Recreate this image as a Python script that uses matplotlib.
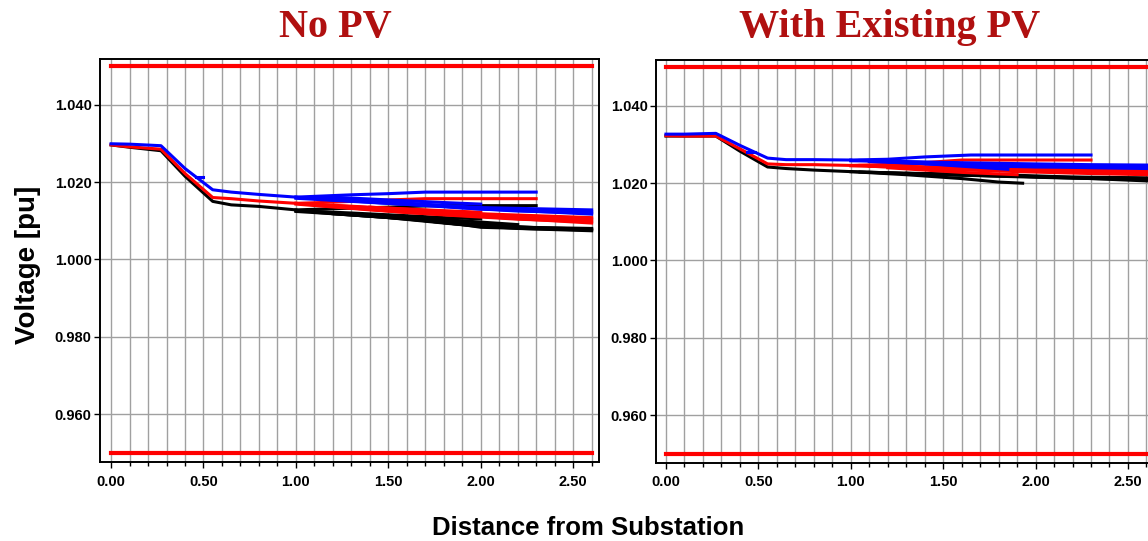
import matplotlib.pyplot as plt
from matplotlib.ticker import MultipleLocator, FormatStrFormatter

# ---- data (distance, voltage in pu) ----
trunk_x = [0.00, 0.10, 0.27, 0.40, 0.55, 0.65, 0.80, 1.00]

# No PV
nopv_blue_trunk = [1.0299, 1.0298, 1.0294, 1.0235, 1.0180, 1.0174, 1.0168, 1.0161]
nopv_red_trunk = [1.0296, 1.0291, 1.0285, 1.0222, 1.0160, 1.0157, 1.0151, 1.0145]
nopv_black_trunk = [1.0296, 1.0290, 1.0281, 1.0215, 1.0150, 1.0141, 1.0137, 1.0128]

nopv_blue_x = [[1.00, 1.10, 1.30, 1.50, 1.70, 2.30],
               [1.00, 1.20, 1.50, 1.80, 2.00, 2.30, 2.60],
               [1.00, 1.30, 1.60, 1.90, 2.20, 2.60],
               [1.10, 1.50, 2.00, 2.60],
               [1.05, 1.40, 1.75, 2.10, 2.60],
               [1.15, 1.45, 1.80, 2.00],
               [0.46, 0.50]]
nopv_blue_v = [[1.0161, 1.0163, 1.0167, 1.0170, 1.0174, 1.0174],
               [1.0161, 1.0154, 1.0145, 1.0137, 1.0130, 1.0126, 1.0124],
               [1.0158, 1.0150, 1.0142, 1.0133, 1.0125, 1.0120],
               [1.0160, 1.0148, 1.0134, 1.0128],
               [1.0159, 1.0151, 1.0140, 1.0129, 1.0117],
               [1.0162, 1.0155, 1.0147, 1.0143],
               [1.0213, 1.0213]]

nopv_red_x = [[1.00, 1.20, 1.40, 1.70, 2.30],
              [1.00, 1.30, 1.60, 2.00, 2.30, 2.60],
              [1.00, 1.40, 1.80, 2.20, 2.60],
              [1.20, 1.60, 2.00, 2.60],
              [1.30, 1.70, 2.10, 2.60],
              [1.10, 1.50, 1.85, 2.25, 2.60],
              [1.40, 1.75, 2.00]]
nopv_red_v = [[1.0145, 1.0148, 1.0152, 1.0157, 1.0157],
              [1.0145, 1.0133, 1.0121, 1.0111, 1.0106, 1.0102],
              [1.0143, 1.0128, 1.0115, 1.0104, 1.0097],
              [1.0140, 1.0130, 1.0118, 1.0108],
              [1.0136, 1.0122, 1.0108, 1.0094],
              [1.0142, 1.0131, 1.0121, 1.0110, 1.0105],
              [1.0135, 1.0127, 1.0122]]

nopv_black_x = [[1.00, 1.20, 1.50, 1.75, 2.30],
                [1.00, 1.30, 1.60, 1.80, 2.00],
                [1.00, 1.20, 1.45, 1.70, 1.90, 2.00, 2.30, 2.60],
                [1.10, 1.50, 1.80, 2.00, 2.60],
                [1.20, 1.60, 1.90, 2.20, 2.60],
                [1.05, 1.35, 1.65, 1.95, 2.30, 2.60],
                [1.50, 1.80, 2.20]]
nopv_black_v = [[1.0128, 1.0131, 1.0135, 1.0139, 1.0139],
                [1.0126, 1.0120, 1.0113, 1.0108, 1.0105],
                [1.0124, 1.0118, 1.0110, 1.0100, 1.0090, 1.0083, 1.0079, 1.0076],
                [1.0122, 1.0108, 1.0094, 1.0085, 1.0080],
                [1.0118, 1.0105, 1.0090, 1.0080, 1.0074],
                [1.0125, 1.0116, 1.0106, 1.0092, 1.0082, 1.0078],
                [1.0113, 1.0103, 1.0090]]

# With existing PV
pv_blue_trunk = [1.0327, 1.0327, 1.0329, 1.0298, 1.0265, 1.0261, 1.0261, 1.0260]
pv_red_trunk = [1.0323, 1.0322, 1.0322, 1.0289, 1.0250, 1.0248, 1.0248, 1.0246]
pv_black_trunk = [1.0322, 1.0322, 1.0322, 1.0283, 1.0242, 1.0238, 1.0234, 1.0230]

pv_blue_x = [[1.00, 1.20, 1.40, 1.65, 2.30],
             [1.00, 1.30, 1.60, 2.00, 2.30, 2.60],
             [1.10, 1.50, 1.90, 2.30, 2.60],
             [1.20, 1.60, 2.00, 2.60],
             [1.05, 1.45, 1.85, 2.20, 2.60],
             [1.30, 1.60, 1.85],
             [0.44, 0.48]]
pv_blue_v = [[1.0260, 1.0262, 1.0268, 1.0273, 1.0273],
             [1.0258, 1.0256, 1.0253, 1.0250, 1.0248, 1.0247],
             [1.0256, 1.0249, 1.0244, 1.0240, 1.0238],
             [1.0255, 1.0246, 1.0242, 1.0243],
             [1.0259, 1.0253, 1.0248, 1.0244, 1.0241],
             [1.0254, 1.0244, 1.0236],
             [1.0280, 1.0280]]

pv_red_x = [[1.00, 1.30, 1.60, 2.30],
            [1.00, 1.40, 1.80, 2.20, 2.60],
            [1.10, 1.50, 1.90, 2.30, 2.60],
            [1.20, 1.60, 1.90],
            [1.05, 1.45, 1.85, 2.25, 2.60],
            [1.30, 1.70, 2.10, 2.60]]
pv_red_v = [[1.0246, 1.0250, 1.0260, 1.0260],
            [1.0245, 1.0240, 1.0234, 1.0230, 1.0228],
            [1.0244, 1.0236, 1.0230, 1.0225, 1.0222],
            [1.0240, 1.0228, 1.0222],
            [1.0246, 1.0242, 1.0238, 1.0235, 1.0233],
            [1.0243, 1.0238, 1.0232, 1.0225]]

pv_black_x = [[1.00, 1.30, 1.60, 1.80, 1.93],
              [1.00, 1.40, 1.80, 2.20, 2.60],
              [1.10, 1.50, 1.90, 2.30, 2.60],
              [1.30, 1.80, 2.20, 2.60],
              [1.05, 1.35, 1.70, 2.10, 2.60]]
pv_black_v = [[1.0230, 1.0222, 1.0212, 1.0203, 1.0200],
              [1.0230, 1.0224, 1.0218, 1.0213, 1.0210],
              [1.0228, 1.0222, 1.0218, 1.0212, 1.0206],
              [1.0226, 1.0222, 1.0216, 1.0214],
              [1.0229, 1.0225, 1.0220, 1.0216, 1.0212]]

limits = [0.95, 1.05]
limit_x = [0.0, 2.6]
titles = ["No PV", "With Existing PV"]

fig = plt.figure(figsize=(11.48, 5.41), dpi=100)
ax1 = fig.add_axes([0.0871, 0.146, 0.4347, 0.7455])
ax2 = fig.add_axes([0.5714, 0.1442, 0.4337, 0.745])


def draw_panel(ax, xlim, trunks, branches):
    # limit lines
    for lim in limits:
        ax.plot(limit_x, [lim, lim], color="#ff0000", lw=3, zorder=3)
    # black, then red, then blue on top
    for color, trunk, (bx, bv) in zip(["black", "#ff0000", "#0000ff"], trunks, branches):
        ax.plot(trunk_x, trunk, color=color, lw=2.2, zorder=4)
        for x, v in zip(bx, bv):
            ax.plot(x, v, color=color, lw=2.2, zorder=4)

    ax.set_xlim(*xlim)
    ax.set_ylim(0.9476, 1.0519)
    ax.xaxis.set_major_locator(MultipleLocator(0.5))
    ax.xaxis.set_minor_locator(MultipleLocator(0.1))
    ax.yaxis.set_major_locator(MultipleLocator(0.02))
    ax.xaxis.set_major_formatter(FormatStrFormatter("%.2f"))
    ax.yaxis.set_major_formatter(FormatStrFormatter("%.3f"))
    ax.grid(True, which="both", axis="x", color="#a0a0a0", lw=1.0, zorder=1)
    ax.grid(True, which="major", axis="y", color="#a0a0a0", lw=1.0, zorder=1)
    ax.tick_params(axis="both", which="major", length=4, width=1, pad=2)
    ax.tick_params(axis="x", which="major", pad=5)
    ax.tick_params(axis="x", which="minor", length=3, width=1)
    for lab in ax.get_xticklabels() + ax.get_yticklabels():
        lab.set_fontfamily(["Liberation Sans", "DejaVu Sans"])
        lab.set_fontweight("bold")
        lab.set_fontsize(10.5)
    for sp in ax.spines.values():
        sp.set_linewidth(1.4)
        sp.set_color("black")


draw_panel(ax1, (-0.06, 2.64),
           [nopv_black_trunk, nopv_red_trunk, nopv_blue_trunk],
           [(nopv_black_x, nopv_black_v), (nopv_red_x, nopv_red_v), (nopv_blue_x, nopv_blue_v)])
draw_panel(ax2, (-0.054, 2.64),
           [pv_black_trunk, pv_red_trunk, pv_blue_trunk],
           [(pv_black_x, pv_black_v), (pv_red_x, pv_red_v), (pv_blue_x, pv_blue_v)])

# titles and shared labels
title_font = dict(family=["Liberation Serif", "DejaVu Serif"], fontweight="bold",
                  fontsize=29, color="#b01010", ha="center", va="center")
fig.text(335 / 1148, 1 - 28 / 541, titles[0], **title_font)
fig.text(890 / 1148, 1 - 28 / 541, titles[1], **title_font)

label_font = dict(family=["Liberation Sans", "DejaVu Sans"], fontweight="bold",
                  color="black", ha="center", va="center")
fig.text(588 / 1148, 1 - 528 / 541, "Distance from Substation", fontsize=18.5, **label_font)
fig.text(28 / 1148, 1 - 265 / 541, "Voltage [pu]", fontsize=20, rotation=90, **label_font)

fig.savefig("out.png", dpi=100)
